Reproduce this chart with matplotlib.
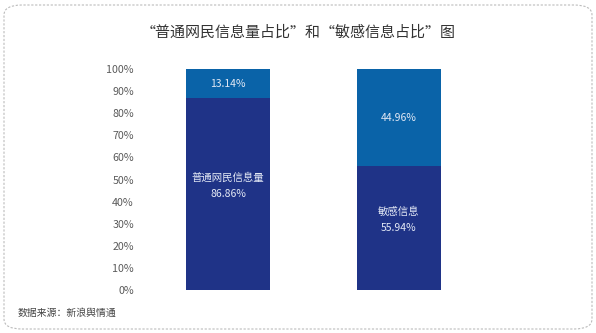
import matplotlib.pyplot as plt
from matplotlib.patches import FancyBboxPatch

plt.rcParams['font.family'] = ['Noto Sans CJK SC', 'DejaVu Sans']

# 数据
categorias = ["普通网民信息量", "敏感信息"]
valores_base = [86.86, 55.94]
valores_resto = [13.14, 44.96]
ticks_y = [0, 10, 20, 30, 40, 50, 60, 70, 80, 90, 100]
titulo = "“普通网民信息量占比”和“敏感信息占比”图"
fuente = "数据来源：新浪舆情通"

color_oscuro = "#1f3387"
color_claro = "#0a63a8"
color_texto = "#e3e9f5"

fig = plt.figure(figsize=(5.96, 3.33), dpi=100)
fig.patch.set_facecolor("white")

# marco redondeado punteado
marco = FancyBboxPatch((4 / 596, 4 / 333), 588 / 596, 324 / 333,
                       boxstyle="round,pad=0,rounding_size=0.03",
                       transform=fig.transFigure, fill=False,
                       edgecolor="#bbbbbb", linestyle=(0, (2, 1.5)), linewidth=0.8)
fig.patches.append(marco)

ax = fig.add_axes([145 / 596, 43 / 333, 339 / 596, 221 / 333])
x = list(range(len(categorias)))
ancho = 0.493
ax.bar(x, valores_base, width=ancho, color=color_oscuro)
ax.bar(x, valores_resto, width=ancho, bottom=valores_base, color=color_claro)

ax.set_xlim(-0.487, 1.501)
ax.set_ylim(0, 100)
ax.set_yticks(ticks_y)
ax.set_yticklabels([f"{t}%" for t in ticks_y], fontsize=7.7, color="#5a5a5a")
ax.tick_params(axis="y", length=0, pad=8)
ax.set_xticks([])
for s in ax.spines.values():
    s.set_visible(False)

# etiquetas dentro de las barras
for i in x:
    ax.annotate(f"{categorias[i]}\n{valores_base[i]:.2f}%", (i, valores_base[i] / 2),
                xytext=(0, 6), textcoords="offset points", ha="center", va="center",
                fontsize=7.5, color=color_texto, linespacing=1.7)
    y_resto = valores_base[i] + min(valores_resto[i], 100 - valores_base[i]) / 2
    ax.text(i, y_resto, f"{valores_resto[i]:.2f}%", ha="center", va="center",
            fontsize=7.5, color=color_texto)

fig.text(0.5, 1 - 33 / 333, titulo, ha="center", va="center", fontsize=10.8, color="#333333")
fig.text(18 / 596, 1 - 313 / 333, fuente, ha="left", va="center", fontsize=7.1, color="#444444")

fig.savefig("out.png", dpi=100)
